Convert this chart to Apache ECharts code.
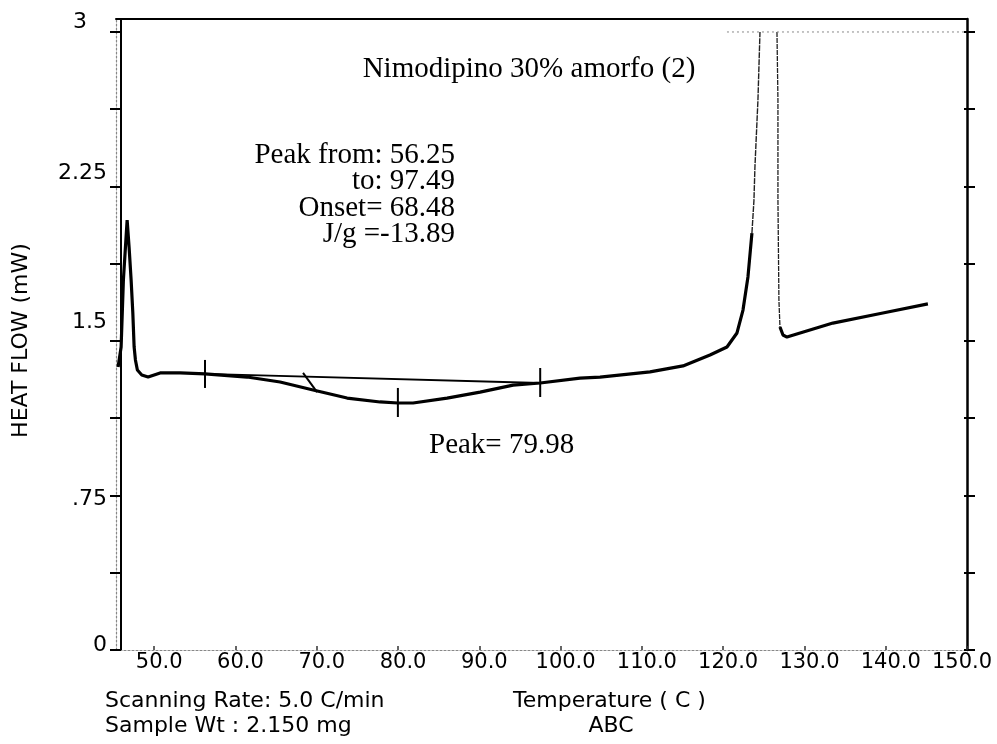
<!DOCTYPE html>
<html>
<head>
<meta charset="utf-8">
<script src="https://cdn.jsdelivr.net/npm/echarts@6/dist/echarts.min.js"></script>
<style>
  html, body { margin: 0; padding: 0; background: #fff; }
  #chart { width: 997px; height: 744px; }
</style>
</head>
<body>
<div id="chart"></div>
<script>
// DSC scan: startup transient, glass/relaxation endotherm and melting peak
const tempStart = [45.56, 45.93, 46.21, 46.67, 46.91, 47.16, 47.37, 47.53, 47.69, 47.93, 48.47, 49.25, 50.73, 53.19,
  56.25, 61.43, 65.49, 69.55, 73.73, 77.79, 79.98, 81.85, 86.03, 90.09, 94.15, 97.49,
  102.39, 104.85, 111.0, 115.06, 118.38, 120.47, 121.70, 122.44, 123.05, 123.54];
const flowStart = [1.374, 1.471, 1.796, 2.087, 1.956, 1.796, 1.636, 1.471, 1.408, 1.359, 1.335, 1.325, 1.345, 1.345,
  1.340, 1.325, 1.301, 1.262, 1.223, 1.204, 1.199, 1.199, 1.223, 1.252, 1.286, 1.296,
  1.320, 1.325, 1.350, 1.379, 1.432, 1.471, 1.539, 1.650, 1.811, 2.024];

// melting peak, recorder off-scale above 3 mW
const tempMeltRise = [123.54, 123.79, 123.91, 124.28, 124.53];
const flowMeltRise = [2.024, 2.184, 2.345, 2.670, 3.0];
const tempMeltFall = [126.62, 126.74, 126.74, 126.86, 126.99];
const flowMeltFall = [3.0, 2.670, 2.184, 1.699, 1.568];

const tempEnd = [126.99, 127.36, 127.85, 133.5, 139.65, 145.19];
const flowEnd = [1.568, 1.529, 1.519, 1.587, 1.636, 1.680];

// integration baseline, onset tangent and event markers
const baselineTemp = [56.25, 97.49];
const baselineFlow = [1.340, 1.296];
const onsetTemp = [68.31, 70.04];
const onsetFlow = [1.345, 1.252];
const markerTemp = [56.25, 79.98, 97.49];
const markerTop = [1.408, 1.272, 1.369];
const markerBottom = [1.272, 1.131, 1.228];
const penLimitTemp = [120.47, 150];
const penLimitFlow = [3, 3];

// axes
const xTickValues = [50, 60, 70, 80, 90, 100, 110, 120, 130, 140, 150];
const yTickValues = [0, 0.375, 0.75, 1.125, 1.5, 1.875, 2.25, 2.625, 3];
const yLabelValues = [0, 0.75, 1.5, 2.25, 3];
const yTickLabels = ['0', '.75', '1.5', '2.25', '3'];

const xMin = 45.3, xMax = 150, yMin = 0, yMax = 3.063;
const SANS = '"DejaVu Sans", Verdana, sans-serif';
const SERIF = '"Liberation Serif", "Times New Roman", serif';

const zip = (xs, ys) => xs.map((x, i) => [x, ys[i]]);

const curveStyle = { color: '#000', width: 3.2 };
const series = [
  { type: 'line', data: zip(tempStart, flowStart), lineStyle: curveStyle },
  { type: 'line', data: zip(tempMeltRise, flowMeltRise), lineStyle: { color: '#222', width: 1.4, type: [6, 1] } },
  { type: 'line', data: zip(tempMeltFall, flowMeltFall), lineStyle: { color: '#222', width: 1.3, type: [5, 1] } },
  { type: 'line', data: zip(tempEnd, flowEnd), lineStyle: curveStyle },
  { type: 'line', data: zip(baselineTemp, baselineFlow), lineStyle: { color: '#000', width: 1.8 } },
  { type: 'line', data: zip(onsetTemp, onsetFlow), lineStyle: { color: '#000', width: 2 } },
  { type: 'line', data: zip(penLimitTemp, penLimitFlow), lineStyle: { color: '#888', width: 1, type: [2, 3] } }
].concat(markerTemp.map((t, i) => ({
  type: 'line', data: [[t, markerTop[i]], [t, markerBottom[i]]], lineStyle: { color: '#000', width: 2 }
}))).map(s => Object.assign({ symbol: 'none', silent: true, animation: false, xAxisIndex: 0, yAxisIndex: 0 }, s));

// per-label nudges for the axis numbers
const yLabelRich = {
  s0: { fontFamily: SANS, fontSize: 22, color: '#000', padding: [0, 0, 10, 0] },
  s1: { fontFamily: SANS, fontSize: 22, color: '#000', padding: [8, 0, 0, 0] },
  s2: { fontFamily: SANS, fontSize: 22, color: '#000', padding: [0, 0, 38, 0] },
  s3: { fontFamily: SANS, fontSize: 22, color: '#000', padding: [0, 0, 26, 0] },
  s4: { fontFamily: SANS, fontSize: 22, color: '#000', padding: [0, 20, 20, 0] }
};
const xLabelRich = {
  a: { fontFamily: SANS, fontSize: 21, color: '#000', padding: [0, 0, 0, 10] },
  b: { fontFamily: SANS, fontSize: 21, color: '#000', padding: [0, 10, 0, 0] }
};

const hidden = { show: false };
const option = {
  backgroundColor: '#fff',
  animation: false,
  grid: { left: 116, right: 30, top: 19, bottom: 94, containLabel: false, outerBoundsMode: 'none' },
  xAxis: [
    {
      type: 'value', min: xMin, max: xMax, position: 'bottom',
      axisLine: { show: true, onZero: false, lineStyle: { color: '#888', width: 1.2, type: [2, 2] } },
      axisTick: { show: true, inside: true, length: 4, customValues: xTickValues, lineStyle: { color: '#333', width: 1.5 } },
      axisLabel: {
        customValues: xTickValues, margin: 2,
        formatter: v => (v >= xMax ? '{b|' : '{a|') + v.toFixed(1) + '}',
        rich: xLabelRich
      },
      splitLine: hidden
    },
    {
      type: 'value', min: xMin, max: xMax, position: 'top',
      axisLine: { show: true, onZero: false, lineStyle: { color: '#000', width: 2 } },
      axisTick: hidden, axisLabel: hidden, splitLine: hidden
    }
  ],
  yAxis: [
    {
      type: 'value', min: yMin, max: yMax, position: 'left', offset: -5,
      axisLine: { show: true, lineStyle: { color: '#000', width: 2 } },
      axisTick: { show: true, length: 11, customValues: yTickValues, lineStyle: { color: '#000', width: 2 } },
      axisLabel: {
        customValues: yLabelValues, margin: 14,
        formatter: v => {
          const i = yLabelValues.findIndex(u => Math.abs(u - v) < 1e-6);
          return i < 0 ? '' : '{s' + i + '|' + yTickLabels[i] + '}';
        },
        rich: yLabelRich
      },
      splitLine: hidden
    },
    {
      type: 'value', min: yMin, max: yMax, position: 'left', offset: 0,
      axisLine: { show: true, lineStyle: { color: '#888', width: 1.2, type: [2, 2] } },
      axisTick: hidden, axisLabel: hidden, splitLine: hidden,
      name: 'HEAT FLOW (mW)', nameLocation: 'middle', nameRotate: 90, nameGap: 84,
      nameTextStyle: { fontFamily: SANS, fontSize: 22, color: '#000', padding: [0, 12, 0, 0] }
    },
    {
      type: 'value', min: yMin, max: yMax, position: 'right', offset: 0,
      axisLine: { show: true, lineStyle: { color: '#000', width: 2.5 } },
      axisTick: hidden, axisLabel: hidden, splitLine: hidden
    },
    {
      type: 'value', min: yMin, max: yMax, position: 'right', offset: -3,
      axisLine: hidden,
      axisTick: { show: true, length: 11, customValues: yTickValues, lineStyle: { color: '#000', width: 2 } },
      axisLabel: hidden, splitLine: hidden
    }
  ],
  series: series,
  graphic: [
    { type: 'text', silent: true, style: { text: 'Nimodipino 30% amorfo (2)', x: 529, y: 69, font: '29px ' + SERIF, textAlign: 'center', textVerticalAlign: 'middle', fill: '#000' } },
    { type: 'text', silent: true, style: { text: 'Peak from: 56.25', x: 455, y: 155, font: '29px ' + SERIF, textAlign: 'right', textVerticalAlign: 'middle', fill: '#000' } },
    { type: 'text', silent: true, style: { text: 'to: 97.49', x: 455, y: 181.5, font: '29px ' + SERIF, textAlign: 'right', textVerticalAlign: 'middle', fill: '#000' } },
    { type: 'text', silent: true, style: { text: 'Onset= 68.48', x: 455, y: 208, font: '29px ' + SERIF, textAlign: 'right', textVerticalAlign: 'middle', fill: '#000' } },
    { type: 'text', silent: true, style: { text: 'J/g =-13.89', x: 455, y: 234.5, font: '29px ' + SERIF, textAlign: 'right', textVerticalAlign: 'middle', fill: '#000' } },
    { type: 'text', silent: true, style: { text: 'Peak= 79.98', x: 429, y: 445, font: '29px ' + SERIF, textAlign: 'left', textVerticalAlign: 'middle', fill: '#000' } },
    { type: 'text', silent: true, style: { text: 'Scanning Rate: 5.0 C/min', x: 105, y: 701, font: '22px ' + SANS, textAlign: 'left', textVerticalAlign: 'middle', fill: '#000' } },
    { type: 'text', silent: true, style: { text: 'Sample Wt : 2.150 mg', x: 105, y: 726, font: '22px ' + SANS, textAlign: 'left', textVerticalAlign: 'middle', fill: '#000' } },
    { type: 'text', silent: true, style: { text: 'Temperature ( C )', x: 513, y: 701, font: '22px ' + SANS, textAlign: 'left', textVerticalAlign: 'middle', fill: '#000' } },
    { type: 'text', silent: true, style: { text: 'ABC', x: 611, y: 726, font: '22px ' + SANS, textAlign: 'center', textVerticalAlign: 'middle', fill: '#000' } }
  ]
};

const chart = echarts.init(document.getElementById('chart'), null, { renderer: 'canvas' });
chart.setOption(option);
</script>
</body>
</html>
